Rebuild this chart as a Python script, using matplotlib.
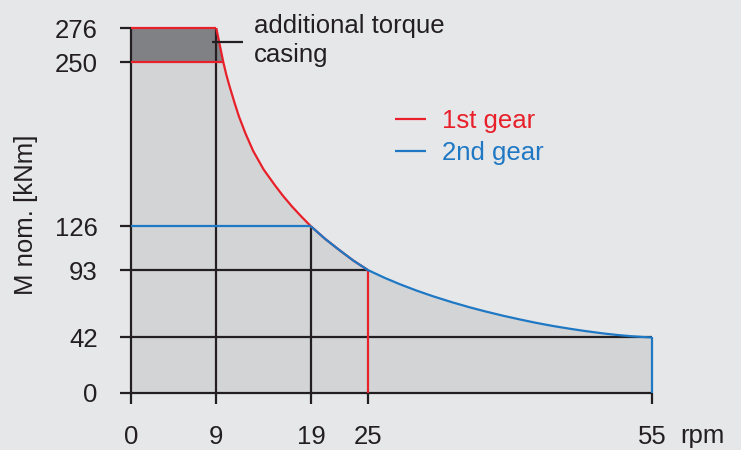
import numpy as np
import matplotlib
matplotlib.use("Agg")
import matplotlib.pyplot as plt

plt.rcParams['font.family'] = ['Liberation Sans', 'DejaVu Sans']

# torque curve values (rpm, kNm)
red_n = [9, 9.75, 10.05, 10.4, 10.95, 11.4, 12.1, 12.9, 14.0, 15.2, 16.0, 17.0, 18.0,
         19, 20.5, 22.1, 23.5, 25]
red_m = [276, 250, 241, 232, 219, 209, 196, 183, 169, 157, 149.5, 141, 133.3,
         126, 116.5, 107.5, 100, 93]
blue_n = [19, 20.5, 22.1, 23.5, 25, 26.8, 28.4, 30.2, 31.9, 33.9, 35.8, 37.4, 39.3,
          41.0, 42.8, 44.6, 46.4, 47.9, 49.9, 51.3, 52.7, 53.9, 55]
blue_m = [126, 116.5, 107.5, 100, 93, 87.0, 82.2, 77.3, 73.1, 68.6, 64.7, 61.7, 58.4,
          55.7, 53.0, 50.6, 48.5, 46.9, 45.0, 43.9, 43.0, 42.4, 42]

x_ticks = [0, 9, 19, 25, 55]
y_ticks = [0, 42, 93, 126, 250, 276]
casing_m = 250
max_m = 276

bg = '#e6e7e9'
light = '#d3d4d6'
dark = '#808184'
red = '#e8202a'
blue = '#1f78c4'
black = '#231f20'
fs = 18.5

fig = plt.figure(figsize=(7.41, 4.50), dpi=100, facecolor=bg)
ax = fig.add_axes([131/741, 1-393/450, (652-131)/741, (393-28)/450])
ax.set_facecolor(bg)
ax.set_xlim(0, 55)
ax.set_ylim(0, 276)
for s in ax.spines.values():
    s.set_visible(False)

# fills
i19 = red_n.index(19)
env_n = np.r_[0, red_n[1:i19], blue_n]
env_m = np.r_[casing_m, red_m[1:i19], blue_m]
ax.fill_between(env_n, 0, env_m, color=light, lw=0, zorder=1)
ax.fill_between([0, red_n[0], red_n[1]], casing_m, [max_m, max_m, casing_m],
                color=dark, lw=0, zorder=1)

lw = 1.6
kw = dict(clip_on=False, solid_capstyle='butt', solid_joinstyle='round')
# black grid
ax.plot([0, 0], [0, max_m], color=black, lw=lw, zorder=3, **kw)
ax.plot([9, 9], [0, max_m], color=black, lw=lw, zorder=3, **kw)
ax.plot([19, 19], [0, 126], color=black, lw=lw, zorder=3, **kw)
ax.plot([0, 25], [93, 93], color=black, lw=lw, zorder=3, **kw)
ax.plot([0, 55], [42, 42], color=black, lw=lw, zorder=3, **kw)
ax.plot([0, 55], [0, 0], color=black, lw=lw, zorder=3, **kw)

# 1st gear
ax.plot([0, red_n[0]], [max_m, max_m], color=red, lw=lw, zorder=4, **kw)
ax.plot([0, red_n[1]], [casing_m, casing_m], color=red, lw=lw, zorder=4, **kw)
ax.plot(red_n, red_m, color=red, lw=lw, zorder=4, label='1st gear', **kw)
ax.plot([25, 25], [0, 93], color=red, lw=lw, zorder=4, **kw)
# 2nd gear
ax.plot([0, 19], [126, 126], color=blue, lw=lw, zorder=4, **kw)
ax.plot(blue_n, blue_m, color=blue, lw=lw, zorder=5, label='2nd gear', **kw)
ax.plot([55, 55], [0, 42], color=blue, lw=lw, zorder=4, **kw)

# annotation
ax.plot([8.58, 11.8], [265.6, 265.6], color=black, lw=lw, zorder=6, **kw)
ax.text(13.0, 286.6, 'additional torque\ncasing', fontsize=fs, color=black,
        ha='left', va='top', linespacing=1.27)

ax.set_xticks(x_ticks)
ax.set_yticks(y_ticks)
ax.tick_params(axis='x', length=8, width=lw, color=black, pad=15,
               labelsize=fs, labelcolor=black)
ax.tick_params(axis='y', length=8, width=lw, color=black, pad=16,
               labelsize=fs, labelcolor=black)
ax.set_ylabel('M nom. [kNm]', fontsize=fs, color=black)
ax.yaxis.set_label_coords(-(131-38)/(652-131), 0.489)
fig.text(680/741, 1-436/450, 'rpm', fontsize=fs, color=black, ha='left', va='center')

leg = ax.legend(loc='center left', bbox_to_anchor=(395/741, 1-137/450),
                bbox_transform=fig.transFigure, frameon=False, fontsize=fs,
                handlelength=1.2, handletextpad=0.62, borderpad=0,
                borderaxespad=0, labelspacing=0.3, labelcolor='linecolor')

fig.savefig('out.png', dpi=100, facecolor=bg)
